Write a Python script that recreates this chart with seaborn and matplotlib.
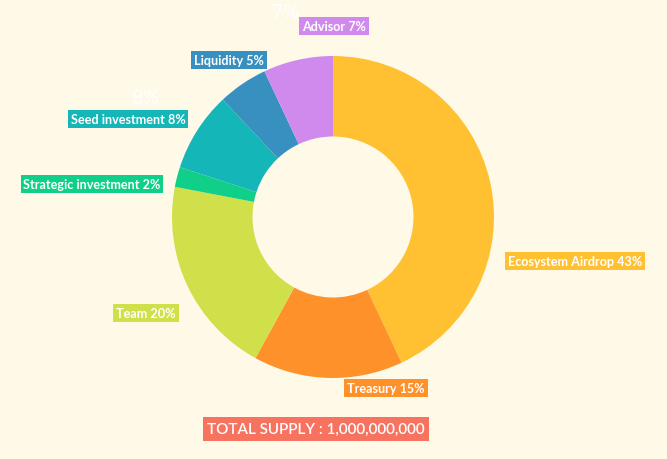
import matplotlib
matplotlib.use("Agg")
import matplotlib.pyplot as plt
import seaborn as sns

# token allocation, clockwise from 12 o'clock
labels = ["Ecosystem Airdrop", "Treasury", "Team", "Strategic investment",
          "Seed investment", "Liquidity", "Advisor"]
shares = [43, 15, 20, 2, 8, 5, 7]
colors = ["#FFC132", "#FF912B", "#CFE04B", "#10CF88", "#14B6B8", "#3790C0", "#D08AEE"]
total_supply = "1,000,000,000"

# label box centres in picture pixels (x, y from top)
label_pos = [(575, 262), (386, 389), (146, 314), (92, 185),
             (128, 120), (229, 61), (334, 27)]

W, H = 667, 460
bg = "#FFF9E8"

sns.set_theme(style="white")
plt.rcParams["font.family"] = ["Lato", "DejaVu Sans"]

fig = plt.figure(figsize=(W / 100, H / 100), dpi=100, facecolor=bg)
ax = fig.add_axes([0, 0, 1, 1])
ax.set_facecolor(bg)

cx, cy, r = 333, H - 218, 161
ax.pie(shares, colors=colors, startangle=90, counterclock=False,
       center=(cx, cy), radius=r,
       wedgeprops=dict(width=r * 0.5, linewidth=0))

for name, val, col, (px, py) in zip(labels, shares, colors, label_pos):
    ax.text(px, H - py, f"{name} {val}%", ha="center", va="center",
            color="white", fontsize=9.1, fontweight="bold",
            bbox=dict(boxstyle="square,pad=0.22", fc=col, ec="none"))

# faint leftover labels
ax.text(285, H - 12, "7%", ha="center", va="center", color="white", fontsize=14)
ax.text(145, H - 99, "8%", ha="center", va="center", color="white", fontsize=14)

ax.text(316, H - 430, f"TOTAL SUPPLY : {total_supply}", ha="center", va="center",
        color="white", fontsize=11, fontweight="semibold",
        bbox=dict(boxstyle="square,pad=0.3", fc="#F7735F", ec="none"))

ax.set_xlim(0, W)
ax.set_ylim(0, H)
ax.set_aspect("equal")
ax.axis("off")

fig.savefig("out.png", dpi=100, facecolor=bg)
